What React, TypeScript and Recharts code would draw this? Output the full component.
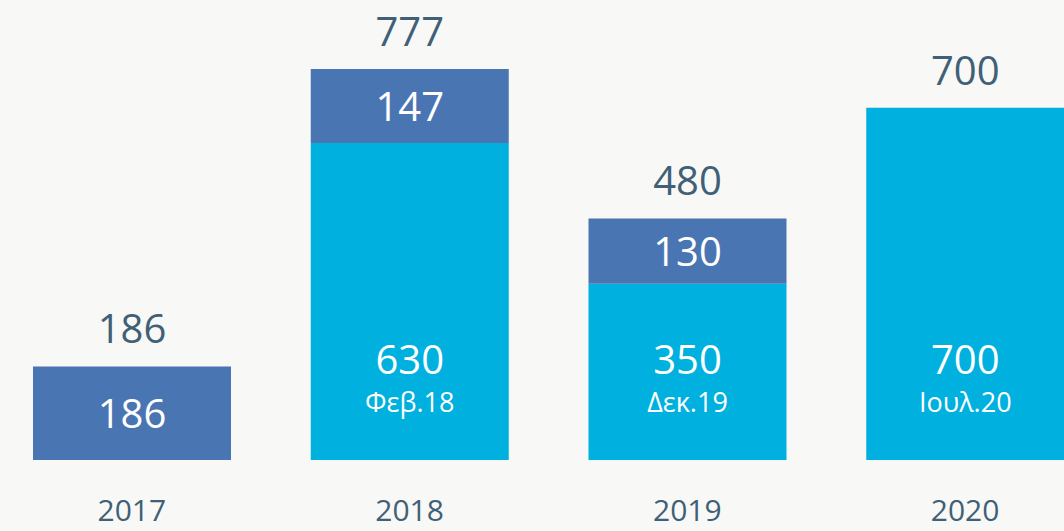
import React from "react";
import { BarChart, Bar, XAxis, YAxis, LabelList } from "recharts";

const categories = ["2017", "2018", "2019", "2020"];
const announcedValues = [0, 630, 350, 700];
const additionalValues = [186, 147, 130, 0];
const announcedDates = ["", "Φεβ.18", "Δεκ.19", "Ιουλ.20"];
const totals = [186, 777, 480, 700];

const data = categories.map((c, i) => ({
  year: c,
  announced: announcedValues[i],
  additional: additionalValues[i],
  total: totals[i],
}));

const FONT = "'Open Sans', 'Noto Sans', sans-serif";
const TEXT = "#3f6076";
const CYAN = "#00b0df";
const DARK = "#4a75b3";

const AllLabels = (props: any) => {
  const { x, y, width, height, index } = props;
  const total = totals[index];
  const add = additionalValues[index];
  const ann = announcedValues[index];
  const cx = x + width / 2;
  const bottom = y + height;
  const addH = total ? (add / total) * height : 0;
  return (
    <g>
      <text x={cx} y={y - 23} textAnchor="middle" fill={TEXT} fontSize={40} fontFamily={FONT}>
        {total}
      </text>
      {add ? (
        <text x={cx} y={y + addH / 2 + 15} textAnchor="middle" fill="#ffffff" fontSize={40} fontFamily={FONT}>
          {add}
        </text>
      ) : null}
      {ann ? (
        <g>
          <text x={cx} y={bottom - 86} textAnchor="middle" fill="#ffffff" fontSize={40} fontFamily={FONT}>
            {ann}
          </text>
          <text x={cx} y={bottom - 48} textAnchor="middle" fill="#ffffff" fontSize={27} fontFamily={FONT}>
            {announcedDates[index]}
          </text>
        </g>
      ) : null}
    </g>
  );
};

const XTick = (props: any) => {
  const { x, payload } = props;
  return (
    <text x={x} y={521} textAnchor="middle" fill={TEXT} fontSize={30} fontFamily={FONT}>
      {payload.value}
    </text>
  );
};

export default function App() {
  return (
    <div style={{ width: 1064, height: 531, overflow: "hidden", background: "#f8f8f6", position: "relative" }}>
      <style>{"body{margin:0}"}</style>
      <div style={{ position: "absolute", left: -7, top: 0 }}>
        <BarChart width={1111} height={531} data={data} margin={{ top: 7, right: 0, bottom: 0, left: 0 }}>
          <XAxis dataKey="year" axisLine={false} tickLine={false} height={71} tick={<XTick />} interval={0} />
          <XAxis dataKey="year" xAxisId="totals" hide />
          <YAxis hide domain={[0, 900]} />
          <Bar dataKey="announced" stackId="a" fill={CYAN} barSize={198} isAnimationActive={false} />
          <Bar dataKey="additional" stackId="a" fill={DARK} barSize={198} isAnimationActive={false} />
          <Bar dataKey="total" xAxisId="totals" fill="transparent" barSize={198} isAnimationActive={false}>
            <LabelList dataKey="total" content={<AllLabels />} />
          </Bar>
        </BarChart>
      </div>
    </div>
  );
}
